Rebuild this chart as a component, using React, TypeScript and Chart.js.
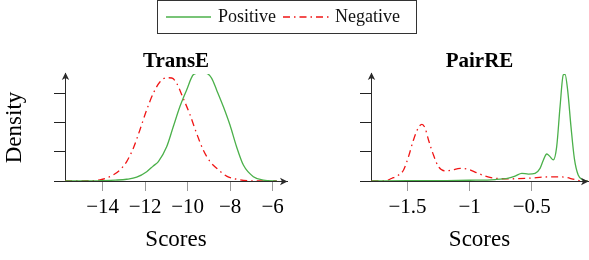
import React, { useEffect, useRef } from "react";
import { Chart, registerables } from "chart.js";

Chart.register(...registerables);

// ---------- data ----------
const transePosX = [-15.77, -14.6, -14.1, -13.4, -12.87, -12.4, -11.93, -11.62, -11.38, -10.99, -10.68, -10.37, -10.05, -9.74, -9.55, -9.3, -9.11, -8.87, -8.64, -8.32, -8.01, -7.7, -7.38, -6.91, -6.44, -5.81];
const transePosY = [0, 0, 0.001, 0.003, 0.006, 0.013, 0.032, 0.052, 0.067, 0.118, 0.187, 0.256, 0.314, 0.366, 0.371, 0.372, 0.371, 0.354, 0.314, 0.256, 0.193, 0.118, 0.055, 0.015, 0.003, 0];

const transeNegX = [-15.77, -14.6, -14.13, -13.66, -13.19, -12.87, -12.56, -12.25, -11.93, -11.62, -11.3, -10.99, -10.75, -10.52, -10.21, -9.89, -9.58, -9.27, -8.95, -8.64, -8.17, -7.7, -7.2, -6.5, -5.81];
const transeNegY = [0, 0.001, 0.004, 0.015, 0.038, 0.067, 0.113, 0.176, 0.245, 0.302, 0.342, 0.356, 0.355, 0.337, 0.285, 0.228, 0.164, 0.107, 0.067, 0.044, 0.017, 0.006, 0.001, 0, 0];

const pairrePosX = [-1.79, -1.5, -1.2, -1.0, -0.795, -0.688, -0.634, -0.58, -0.527, -0.473, -0.433, -0.406, -0.379, -0.353, -0.326, -0.299, -0.272, -0.246, -0.232, -0.211, -0.184, -0.157, -0.126, -0.085, -0.05];
const pairrePosY = [0, 0.02, 0.03, 0.05, 0.1, 0.2, 0.34, 0.53, 0.48, 0.53, 0.87, 1.45, 1.86, 1.68, 1.45, 2.37, 5.13, 7.31, 7.36, 6.28, 3.75, 1.56, 0.41, 0.06, 0];

const pairreNegX = [-1.79, -1.679, -1.625, -1.572, -1.532, -1.492, -1.452, -1.411, -1.384, -1.358, -1.331, -1.291, -1.251, -1.197, -1.143, -1.076, -1.009, -0.942, -0.875, -0.795, -0.688, -0.527, -0.366, -0.259, -0.152, -0.098, -0.05];
const pairreNegY = [0, 0.02, 0.19, 0.41, 0.76, 1.68, 2.83, 3.7, 3.91, 3.63, 2.83, 1.79, 0.99, 0.69, 0.76, 0.87, 0.8, 0.57, 0.34, 0.19, 0.15, 0.19, 0.28, 0.28, 0.1, 0, 0];

const transeXTicks = [-14, -12, -10, -8, -6];
const transeYTicks = [0, 0.1, 0.2, 0.3];
const pairreXTicks = [-1.5, -1, -0.5];
const pairreYTicks = [0, 2, 4, 6];

const seriesNames = ["Positive", "Negative"];
const GREEN = "#4bb04a";
const RED = "#f01515";
const DASH = [7, 4, 1.5, 4];
const FONT = "'Liberation Serif', 'Times New Roman', serif";
const AXIS = "#2a2a2a";

const toPts = (xs: number[], ys: number[]) => xs.map((x, i) => ({ x, y: ys[i] }));
const fmt = (v: number) => (v < 0 ? "\u2212" + String(Math.abs(v)) : String(v));

const arrowPlugin = {
  id: "arrows",
  afterDraw(chart: any) {
    const { ctx, chartArea } = chart;
    const x0 = Math.round(chartArea.left) + 0.5;
    const y0 = Math.round(chartArea.bottom) + 0.5;
    ctx.save();
    ctx.fillStyle = AXIS;
    const ty = chartArea.top - 1.5;
    ctx.beginPath();
    ctx.moveTo(x0, ty);
    ctx.lineTo(x0 - 3.7, ty + 7.5);
    ctx.lineTo(x0, ty + 5.5);
    ctx.lineTo(x0 + 3.7, ty + 7.5);
    ctx.closePath();
    ctx.fill();
    const tx = chartArea.right + 0.5;
    ctx.beginPath();
    ctx.moveTo(tx, y0);
    ctx.lineTo(tx - 7.5, y0 - 3.7);
    ctx.lineTo(tx - 5.5, y0);
    ctx.lineTo(tx - 7.5, y0 + 3.7);
    ctx.closePath();
    ctx.fill();
    ctx.restore();
  },
};

const legendPlugin = {
  id: "boxLegend",
  afterDraw(chart: any) {
    const { ctx } = chart;
    ctx.save();
    ctx.strokeStyle = "#333";
    ctx.lineWidth = 1;
    ctx.strokeRect(157.5, 0.5, 259, 33);
    ctx.lineWidth = 1.3;
    ctx.strokeStyle = GREEN;
    ctx.beginPath();
    ctx.moveTo(166, 17);
    ctx.lineTo(211, 17);
    ctx.stroke();
    ctx.strokeStyle = RED;
    ctx.setLineDash(DASH);
    ctx.beginPath();
    ctx.moveTo(283, 17);
    ctx.lineTo(329, 17);
    ctx.stroke();
    ctx.setLineDash([]);
    ctx.fillStyle = "#111";
    ctx.font = `18px ${FONT}`;
    ctx.textBaseline = "alphabetic";
    ctx.fillText(seriesNames[0], 218, 22);
    ctx.fillText(seriesNames[1], 335, 22);
    ctx.restore();
  },
};

function makeConfig(opts: {
  title: string;
  pos: { x: number; y: number }[];
  neg: { x: number; y: number }[];
  xmin: number;
  xmax: number;
  ymax: number;
  xTicks: number[];
  yTicks: number[];
  yWidth: number;
  padRight: number;
  yTitle: string | null;
  legend: boolean;
}) {
  return {
    type: "line" as const,
    data: {
      datasets: [
        {
          label: seriesNames[0],
          data: opts.pos,
          borderColor: GREEN,
          borderWidth: 1.3,
          pointRadius: 0,
          cubicInterpolationMode: "monotone" as const,
          fill: false,
        },
        {
          label: seriesNames[1],
          data: opts.neg,
          borderColor: RED,
          borderWidth: 1.3,
          borderDash: DASH,
          pointRadius: 0,
          cubicInterpolationMode: "monotone" as const,
          fill: false,
        },
      ],
    },
    options: {
      responsive: false,
      animation: false as const,
      layout: { padding: { left: 0, right: opts.padRight, top: 50, bottom: 0 }, autoPadding: false },
      plugins: {
        legend: { display: false },
        tooltip: { enabled: false },
        title: {
          display: true,
          text: opts.title,
          fullSize: false,
          color: "#000",
          font: { family: FONT, size: 21, weight: "bold" as const, lineHeight: 1.14 },
          padding: { top: 0, bottom: 0 },
        },
      },
      scales: {
        x: {
          type: "linear" as const,
          min: opts.xmin,
          max: opts.xmax,
          afterBuildTicks: (s: any) => {
            s.ticks = opts.xTicks.map((v) => ({ value: v }));
          },
          afterFit: (s: any) => {
            s.height = 79;
          },
          border: { display: true, color: AXIS, width: 1 },
          grid: { drawOnChartArea: false, drawTicks: true, tickLength: 10, color: "#9a9a9a", lineWidth: 1 },
          ticks: {
            color: "#000",
            font: { family: FONT, size: 21 },
            padding: 4,
            maxRotation: 0,
            autoSkip: false,
            callback: (v: any) => fmt(Number(v)),
          },
          title: {
            display: true,
            text: "Scores",
            color: "#000",
            font: { family: FONT, size: 23 },
            padding: { top: 0, bottom: 6 },
          },
        },
        y: {
          type: "linear" as const,
          min: 0,
          max: opts.ymax,
          afterBuildTicks: (s: any) => {
            s.ticks = opts.yTicks.map((v) => ({ value: v }));
          },
          afterFit: (s: any) => {
            s.width = opts.yWidth;
          },
          border: { display: true, color: AXIS, width: 1 },
          grid: { drawOnChartArea: false, drawTicks: true, tickLength: 11, color: "#222", lineWidth: 1 },
          ticks: { display: true, callback: () => "", padding: 0 },
          title: {
            display: !!opts.yTitle,
            text: opts.yTitle || "",
            color: "#000",
            font: { family: FONT, size: 23 },
            padding: { top: 1, bottom: 0 },
          },
        },
      },
    },
    plugins: opts.legend ? [arrowPlugin, legendPlugin] : [arrowPlugin],
  };
}

export default function App() {
  const leftRef = useRef<HTMLCanvasElement | null>(null);
  const rightRef = useRef<HTMLCanvasElement | null>(null);

  useEffect(() => {
    const c1 = new Chart(
      leftRef.current as HTMLCanvasElement,
      makeConfig({
        title: "TransE",
        pos: toPts(transePosX, transePosY),
        neg: toPts(transeNegX, transeNegY),
        xmin: -15.774,
        xmax: -5.327,
        ymax: 0.369,
        xTicks: transeXTicks,
        yTicks: transeYTicks,
        yWidth: 65,
        padRight: 302,
        yTitle: "Density",
        legend: true,
      }) as any
    );
    const c2 = new Chart(
      rightRef.current as HTMLCanvasElement,
      makeConfig({
        title: "PairRE",
        pos: toPts(pairrePosX, pairrePosY),
        neg: toPts(pairreNegX, pairreNegY),
        xmin: -1.794,
        xmax: -0.047,
        ymax: 7.38,
        xTicks: pairreXTicks,
        yTicks: pairreYTicks,
        yWidth: 371,
        padRight: 1,
        yTitle: null,
        legend: false,
      }) as any
    );
    return () => {
      c1.destroy();
      c2.destroy();
    };
  }, []);

  const cs: React.CSSProperties = { position: "absolute", left: 0, top: 0, width: 589, height: 260 };
  return (
    <div style={{ position: "absolute", left: 0, top: 0, width: 589, height: 260, background: "#fff" }}>
      <canvas ref={leftRef} width={589} height={260} style={cs} />
      <canvas ref={rightRef} width={589} height={260} style={cs} />
    </div>
  );
}
